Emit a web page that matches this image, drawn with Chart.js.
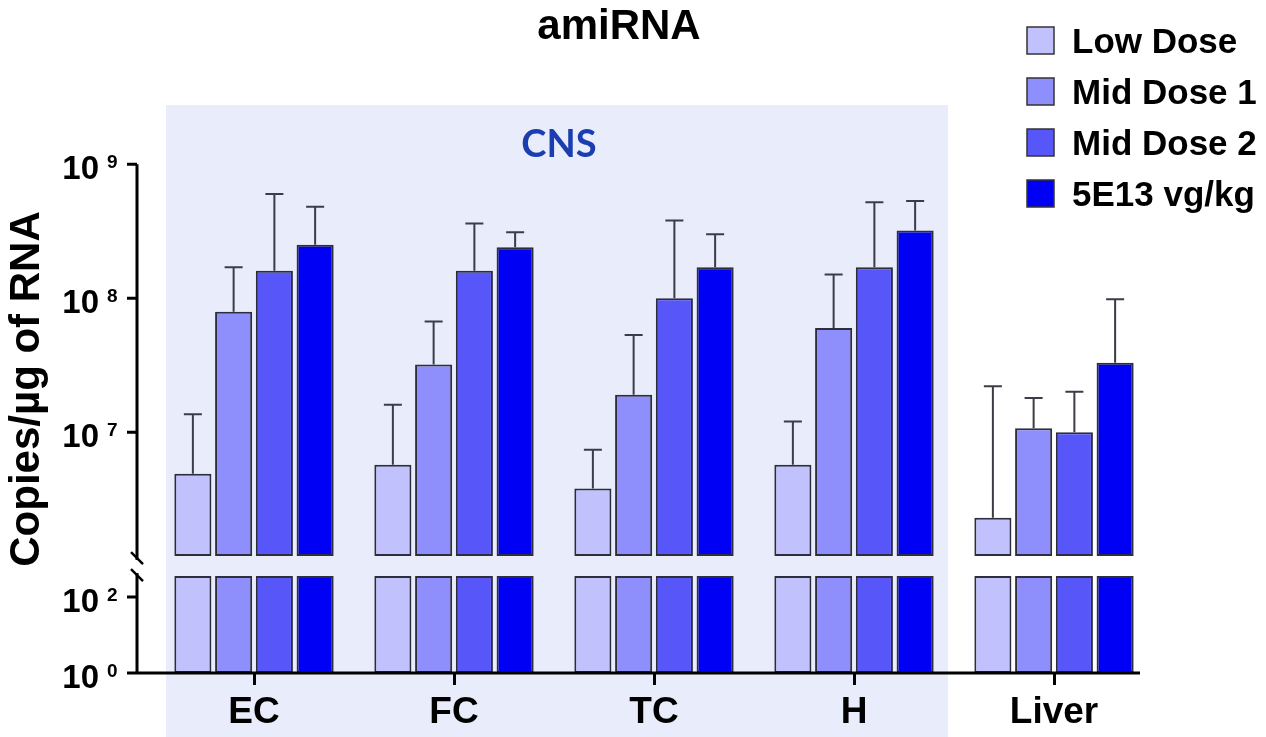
<!DOCTYPE html>
<html>
<head>
<meta charset="utf-8">
<script src="https://cdn.jsdelivr.net/npm/chart.js@4"></script>
<style>
  body { margin: 0; background: #fff; }
</style>
</head>
<body>
<canvas id="amirna_chart" width="1266" height="737"></canvas>
<script>
// ---------------- data (copies / µg of RNA) ----------------
const regions = ['EC', 'FC', 'TC', 'H', 'Liver'];
const doseLabels = ['Low Dose', 'Mid Dose 1', 'Mid Dose 2', '5E13 vg/kg'];
const doseColors = ['#c1c1fd', '#8e8efc', '#5757f9', '#0000f5'];

const lowDose  = [4.9e6, 5.7e6, 3.8e6, 5.7e6, 2.3e6];
const midDose1 = [7.9e7, 3.2e7, 1.9e7, 6.0e7, 1.07e7];
const midDose2 = [1.6e8, 1.6e8, 1.0e8, 1.7e8, 1.0e7];
const highDose = [2.5e8, 2.4e8, 1.7e8, 3.2e8, 3.3e7];

// top of each error bar
const lowDoseErr  = [1.36e7, 1.6e7, 7.4e6, 1.2e7, 2.2e7];
const midDose1Err = [1.7e8, 6.7e7, 5.3e7, 1.5e8, 1.8e7];
const midDose2Err = [6.0e8, 3.6e8, 3.8e8, 5.2e8, 2.0e7];
const highDoseErr = [4.8e8, 3.1e8, 3.0e8, 5.3e8, 9.8e7];

const tickValues = [1, 1e2, 1e7, 1e8, 1e9];
const tickExponents = ['0', '2', '7', '8', '9'];   // labels read 10^n

const FONT = "'Liberation Sans', Arial, sans-serif";

// broken log axis: 10^0..10^2.55 squeezed at the bottom, 10^6.075..10^9 on top
const LOW_DECADE = 38, HIGH_DECADE = 134, GAP = 20;
const BREAK_LOW = 2.55, BREAK_HIGH = 6.075;
function axisPos(v) {
    const L = Math.log10(v);
    if (L < 4.5) return L * LOW_DECADE;
    return BREAK_LOW * LOW_DECADE + GAP + (L - BREAK_HIGH) * HIGH_DECADE;
}

const series = [lowDose, midDose1, midDose2, highDose];
const errors = [lowDoseErr, midDose1Err, midDose2Err, highDoseErr];

// every bar is drawn in two pieces, below and above the axis break
const datasets = [];
series.forEach((vals, i) => {
    const common = {
        label: doseLabels[i],
        backgroundColor: doseColors[i],
        borderColor: '#2d2d3c',
        borderWidth: 2,
        borderSkipped: false,
        stack: 'dose' + i,
        categoryPercentage: 0.815,
        barPercentage: 0.91
    };
    datasets.push({ ...common, data: vals.map(() => [0, axisPos(Math.pow(10, BREAK_LOW))]) });
    datasets.push({ ...common, data: vals.map(v => [axisPos(Math.pow(10, BREAK_HIGH)), axisPos(v)]), errTop: errors[i] });
});

// light blue CNS panel behind the brain regions
const cnsPanel = {
    id: 'cnsPanel',
    beforeDraw(chart) {
        const { ctx, chartArea, scales: { x } } = chart;
        const x0 = x.getPixelForValue(0) - 88;
        const x1 = x.getPixelForValue(3) + 94;
        ctx.save();
        ctx.fillStyle = '#e8ecfb';
        ctx.fillRect(x0, chartArea.top, x1 - x0, chart.height - chartArea.top);
        ctx.restore();
    }
};

const errorBars = {
    id: 'errorBars',
    afterDatasetsDraw(chart) {
        const { ctx, scales: { y } } = chart;
        ctx.save();
        ctx.strokeStyle = '#3c3c48';
        ctx.lineWidth = 2;
        chart.data.datasets.forEach((ds, i) => {
            if (!ds.errTop) return;
            chart.getDatasetMeta(i).data.forEach((bar, j) => {
                const top = y.getPixelForValue(axisPos(ds.errTop[j]));
                ctx.beginPath();
                ctx.moveTo(bar.x, bar.y);
                ctx.lineTo(bar.x, top);
                ctx.moveTo(bar.x - 9, top);
                ctx.lineTo(bar.x + 9, top);
                ctx.stroke();
            });
        });
        ctx.restore();
    }
};

// axis lines with the // break, 10^n tick labels, title, CNS label and legend
const decorations = {
    id: 'decorations',
    afterDatasetsDraw(chart) {
        const { ctx, chartArea, scales: { y } } = chart;
        const ax = chartArea.left - 17;
        const bottom = y.getPixelForValue(0);
        const top = y.getPixelForValue(axisPos(1e9));
        const brk = y.getPixelForValue(axisPos(Math.pow(10, BREAK_LOW))) - GAP / 2;
        ctx.save();
        ctx.strokeStyle = '#000';
        ctx.lineWidth = 3;
        ctx.beginPath();
        ctx.moveTo(ax, top); ctx.lineTo(ax, brk - 6);
        ctx.moveTo(ax, brk + 7); ctx.lineTo(ax, bottom);
        ctx.moveTo(ax - 1.5, bottom); ctx.lineTo(chartArea.right - 14, bottom);
        y.ticks.forEach(t => {
            const py = y.getPixelForValue(t.value);
            ctx.moveTo(ax - 10, py); ctx.lineTo(ax, py);
        });
        ctx.stroke();
        ctx.lineWidth = 2.5;
        ctx.beginPath();
        ctx.moveTo(ax - 6, brk - 14); ctx.lineTo(ax + 6, brk - 2);
        ctx.moveTo(ax - 6, brk + 3); ctx.lineTo(ax + 6, brk + 15);
        ctx.stroke();

        ctx.fillStyle = '#000';
        ctx.textBaseline = 'alphabetic';
        y.ticks.forEach((t, i) => {
            const py = y.getPixelForValue(t.value);
            ctx.textAlign = 'right';
            ctx.font = 'bold 33px ' + FONT;
            ctx.fillText('10', ax - 38, py + 15);
            ctx.textAlign = 'left';
            ctx.font = 'bold 19px ' + FONT;
            ctx.fillText(tickExponents[i], ax - 30, py + 4);
        });
        ctx.restore();
    },
    afterDraw(chart) {
        const { ctx } = chart;
        ctx.save();
        ctx.fillStyle = '#000';
        ctx.textAlign = 'center';
        ctx.textBaseline = 'alphabetic';
        ctx.font = 'bold 42px ' + FONT;
        ctx.fillText('amiRNA', 619, 39);

        ctx.fillStyle = '#1a3eb0';
        ctx.font = "bold 38px Lato, 'Open Sans', sans-serif";
        ctx.fillText('CNS', 559, 157);

        ctx.textAlign = 'left';
        ctx.font = 'bold 35px ' + FONT;
        doseLabels.forEach((lab, i) => {
            const top = 27 + i * 51;
            ctx.fillStyle = doseColors[i];
            ctx.fillRect(1027, top, 27, 27);
            ctx.strokeStyle = '#333';
            ctx.lineWidth = 1.5;
            ctx.strokeRect(1027, top, 27, 27);
            ctx.fillStyle = '#000';
            ctx.fillText(lab, 1072, top + 26);
        });
        ctx.restore();
    }
};

new Chart(document.getElementById('amirna_chart'), {
    type: 'bar',
    data: { labels: regions, datasets: datasets },
    options: {
        responsive: false,
        animation: false,
        devicePixelRatio: 1,
        layout: { padding: { left: 0, right: 112, top: 105, bottom: 0 } },
        plugins: { legend: { display: false }, tooltip: { enabled: false } },
        scales: {
            x: {
                stacked: true,
                afterFit: s => { s.height = 64; },
                border: { display: false },
                grid: { display: true, drawOnChartArea: false, drawTicks: true, tickLength: 12, offset: false, color: '#000', lineWidth: 3 },
                ticks: { color: '#000', padding: 6, font: { family: FONT, size: 37, weight: 'bold' } }
            },
            y: {
                stacked: false,
                min: 0,
                max: 568,
                afterFit: s => { s.width = 154; },
                afterBuildTicks: s => { s.ticks = tickValues.map(v => ({ value: axisPos(v) })); },
                border: { display: false },
                grid: { display: false, drawTicks: false },
                ticks: { display: false },
                title: {
                    display: true,
                    text: 'Copies/µg of RNA',
                    color: '#000',
                    padding: { top: 2, bottom: 0 },
                    font: { family: FONT, size: 42, weight: 'bold' }
                }
            }
        }
    },
    plugins: [cnsPanel, errorBars, decorations]
});
</script>
</body>
</html>
